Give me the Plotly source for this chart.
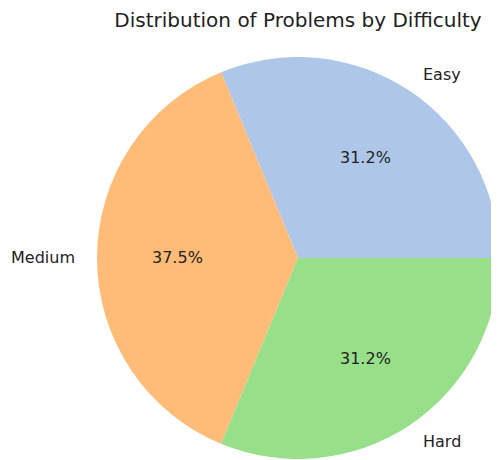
import math
import plotly.graph_objects as go

# problems per difficulty
difficulties = ["Easy", "Medium", "Hard"]
counts = [5, 6, 5]
colors = ["#aec7e8", "#ffbb78", "#98df8a"]

total = sum(counts)
pct_text = [f"{c / total * 100:.1f}%" for c in counts]

# page body has an 8px margin, so the figure is drawn 8px smaller
W, H = 491, 452
cx, cy, r = 290, 250, 201
dom = dict(x=[(cx - r) / W, min(1, (cx + r) / W)],
           y=[(H - cy - r) / H, (H - cy + r) / H])

fig = go.Figure()
fig.add_trace(go.Pie(
    labels=difficulties,
    values=counts,
    textinfo="none",
    sort=False,
    direction="counterclockwise",
    rotation=-22.5,
    marker=dict(colors=colors, line=dict(width=0)),
    domain=dom,
    showlegend=False,
))

# labels at 1.1 r and percentages at 0.6 r, like matplotlib
font = dict(family="DejaVu Sans", size=16, color="#222222")
cum = 0
for name, c, pct in zip(difficulties, counts, pct_text):
    mid = math.radians((cum + c / 2) / total * 360)
    cum += c
    ux, uy = math.cos(mid), math.sin(mid)
    fig.add_annotation(
        x=(cx + 1.1 * r * ux) / W, y=(H - cy + 1.1 * r * uy) / H,
        xref="paper", yref="paper", text=name, showarrow=False,
        xanchor="left" if ux > 0 else "right", yanchor="middle", font=font,
    )
    fig.add_annotation(
        x=(cx + 0.6 * r * ux) / W, y=(H - cy + 0.6 * r * uy) / H,
        xref="paper", yref="paper", text=pct, showarrow=False,
        xanchor="center", yanchor="middle", font=font,
    )

fig.update_layout(
    width=W,
    height=H,
    margin=dict(l=0, r=0, t=0, b=0),
    paper_bgcolor="white",
    title=dict(
        text="Distribution of Problems by Difficulty",
        x=cx / W,
        xanchor="center",
        y=1 - 12 / H,
        yanchor="middle",
        font=dict(family="DejaVu Sans", size=20, color="#222222"),
    ),
)

fig.write_html("out.html")
